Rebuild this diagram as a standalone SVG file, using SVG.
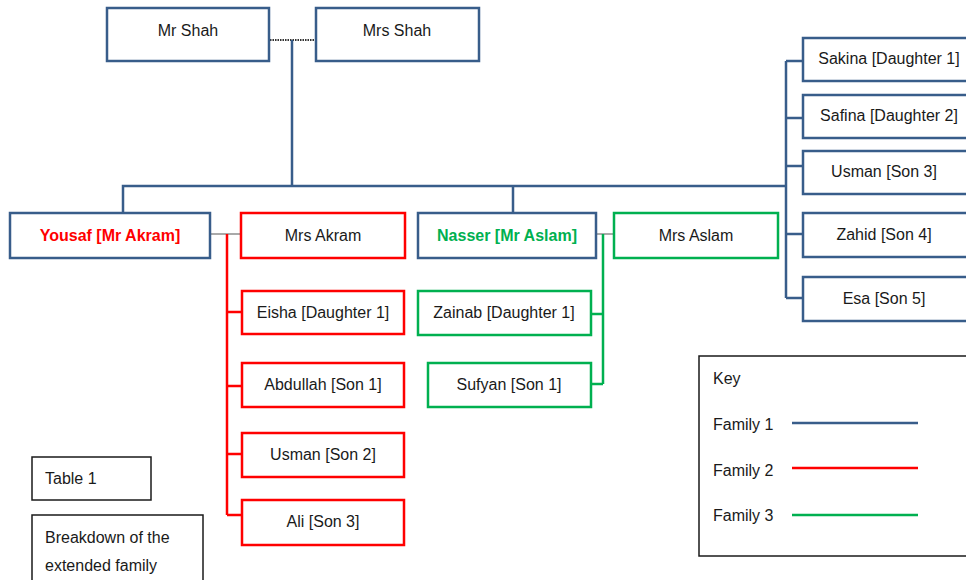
<svg xmlns="http://www.w3.org/2000/svg" width="966" height="580" viewBox="0 0 966 580">
<style>
text{font-family:"Liberation Sans",Arial,sans-serif;font-size:16px;fill:#1a1a1a}
.c{text-anchor:middle}
.b{fill:#fff;stroke:#385d8a;stroke-width:2.5}
.r{fill:#fff;stroke:#ff0000;stroke-width:2.5}
.g{fill:#fff;stroke:#00b050;stroke-width:2.5}
.k{fill:#fff;stroke:#1a1a1a;stroke-width:1.5}
.lb{fill:none;stroke:#385d8a;stroke-width:2.5}
.lr{fill:none;stroke:#ff0000;stroke-width:2.5}
.lg{fill:none;stroke:#00b050;stroke-width:2.5}
.lt{fill:none;stroke:#555;stroke-width:1.2}
</style>
<rect width="966" height="580" fill="#fff"/>
<g id="connectors">
<line x1="270" y1="40" x2="316" y2="40" stroke="#333" stroke-width="2" stroke-dasharray="1.5,1"/>
<path class="lb" d="M292 40V186M123 213V186H786M513 186V213M786 61V298M786 61H803M786 118H803M786 166H803M786 234H803M786 298H803"/>
<path class="lt" d="M210 234H241M596 234H614"/>
<path class="lr" d="M227 234V515M227 312H242M227 386H242M227 454H242M227 515H242"/>
<path class="lg" d="M603 234V384M591 314H603M591 384H603"/>
</g>
<g id="mr-shah"><rect class="b" x="107" y="8" width="162" height="53"/><text class="c" x="188" y="36">Mr Shah</text></g>
<g id="mrs-shah"><rect class="b" x="316" y="8" width="163" height="53"/><text class="c" x="397" y="36">Mrs Shah</text></g>
<g id="yousaf"><rect class="b" x="10" y="213" width="200" height="45"/><text class="c" x="110" y="241" style="fill:#ff0000;font-weight:bold">Yousaf [Mr Akram]</text></g>
<g id="mrs-akram"><rect class="r" x="241" y="213" width="164" height="45"/><text class="c" x="323" y="241">Mrs Akram</text></g>
<g id="nasser"><rect class="b" x="418" y="213" width="178" height="45"/><text class="c" x="507" y="241" style="fill:#00b050;font-weight:bold">Nasser [Mr Aslam]</text></g>
<g id="mrs-aslam"><rect class="g" x="614" y="213" width="164" height="45"/><text class="c" x="696" y="241">Mrs Aslam</text></g>
<g id="eisha"><rect class="r" x="242" y="291" width="162" height="43"/><text class="c" x="323" y="318">Eisha [Daughter 1]</text></g>
<g id="abdullah"><rect class="r" x="242" y="363" width="162" height="44"/><text class="c" x="323" y="390">Abdullah [Son 1]</text></g>
<g id="usman2"><rect class="r" x="242" y="433" width="162" height="44"/><text class="c" x="323" y="460">Usman [Son 2]</text></g>
<g id="ali"><rect class="r" x="242" y="500" width="162" height="45"/><text class="c" x="323" y="527">Ali [Son 3]</text></g>
<g id="zainab"><rect class="g" x="418" y="291" width="173" height="44"/><text class="c" x="504" y="318">Zainab [Daughter 1]</text></g>
<g id="sufyan"><rect class="g" x="428" y="363" width="163" height="44"/><text class="c" x="509" y="390">Sufyan [Son 1]</text></g>
<g id="sakina"><rect class="b" x="803" y="38" width="165" height="43"/><text class="c" x="889" y="64">Sakina [Daughter 1]</text></g>
<g id="safina"><rect class="b" x="803" y="95" width="165" height="43"/><text class="c" x="889" y="121">Safina [Daughter 2]</text></g>
<g id="usman3"><rect class="b" x="803" y="151" width="165" height="43"/><text class="c" x="884" y="177">Usman [Son 3]</text></g>
<g id="zahid"><rect class="b" x="803" y="213" width="165" height="44"/><text class="c" x="884" y="240">Zahid [Son 4]</text></g>
<g id="esa"><rect class="b" x="803" y="277" width="165" height="44"/><text class="c" x="884" y="304">Esa [Son 5]</text></g>
<g id="table1"><rect class="k" x="32" y="457" width="119" height="43"/><text x="45" y="484">Table 1</text></g>
<g id="breakdown"><rect class="k" x="32" y="515" width="171" height="70"/><text x="45" y="543">Breakdown of the</text><text x="45" y="571">extended family</text></g>
<g id="key"><rect class="k" x="699" y="356" width="270" height="200"/>
<text x="713" y="384">Key</text>
<text x="713" y="430">Family 1</text><line x1="792" y1="423" x2="918" y2="423" class="lb"/>
<text x="713" y="476">Family 2</text><line x1="792" y1="468" x2="918" y2="468" class="lr"/>
<text x="713" y="521">Family 3</text><line x1="792" y1="515" x2="918" y2="515" class="lg"/>
</g>
</svg>
